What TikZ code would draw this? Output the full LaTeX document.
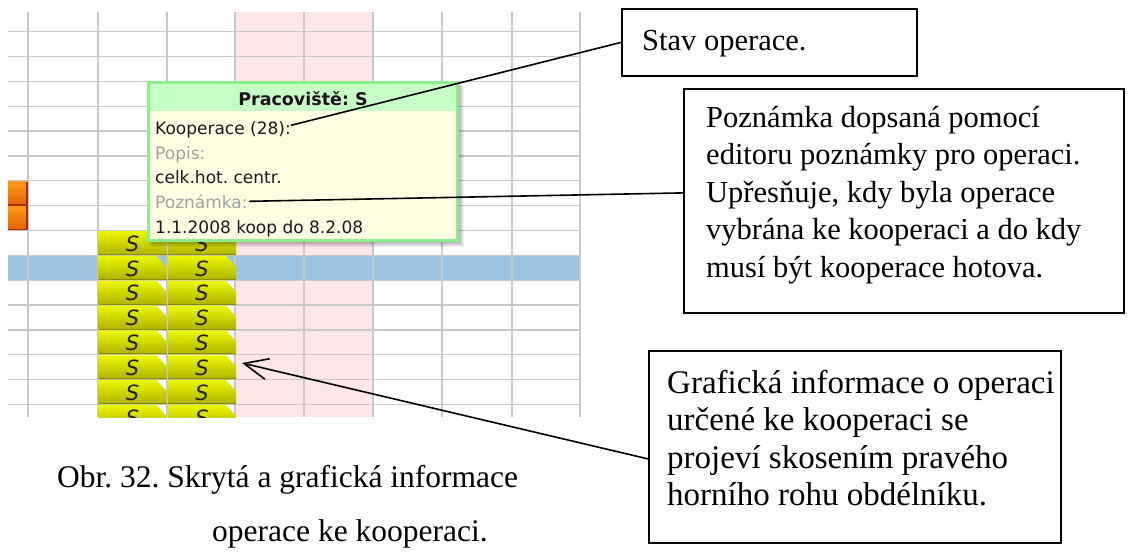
\documentclass[tikz,border=0pt]{standalone}
\usepackage{fontspec}
\setmainfont{Liberation Serif}
\newfontfamily\tipfont{DejaVu Sans}
\usetikzlibrary{arrows.meta,calc}
\frenchspacing

\definecolor{gridline}{HTML}{C8C8C8}
\definecolor{pinkcol}{HTML}{FDE6E6}
\definecolor{bluerow}{HTML}{9CC3E0}
\definecolor{tipborder}{HTML}{8CEF8C}
\definecolor{tiphead}{HTML}{C6FFC6}
\definecolor{tipbody}{HTML}{FFFFE1}
\definecolor{tipgrey}{HTML}{A0A0A0}
\definecolor{tipdark}{HTML}{1E141E}
\definecolor{yeltop}{HTML}{ECF800}
\definecolor{yelmid}{HTML}{D6E000}
\definecolor{yelbot}{HTML}{AEB200}
\definecolor{yelline}{HTML}{8A8C00}
\definecolor{blocktext}{HTML}{202000}
\definecolor{orangetop}{HTML}{FF9A1A}
\definecolor{orangebot}{HTML}{E46200}
\definecolor{orangeedge}{HTML}{A8280E}

% one operation block with the bevelled top right corner
\newcommand\opblock[3]{%
  \shade[top color=yeltop, middle color=yelmid, bottom color=yelbot]
    (#1,#2) -- ({#1+58},#2) -- ({#1+68},{#2+11}) -- ({#1+68},{#2+24}) -- (#1,{#2+24}) -- cycle;
  \draw[yelline, line width=1pt] (#1,{#2+23.5}) -- ({#1+68},{#2+23.5});
  \node[blocklabel] (#3) at ({#1+34},{#2+12.5}) {S};
}

\begin{document}
\begin{tikzpicture}[x=1pt, y=-1pt,
  gridl/.style={gridline, line width=1.3pt},
  blocklabel/.style={inner sep=0pt, text=blocktext, font=\tipfont\itshape\fontsize{21}{22}\selectfont},
  tiptext/.style={inner sep=0pt, anchor=base west, text=tipdark, font=\tipfont\fontsize{17}{20}\selectfont},
  tiplabel/.style={tiptext, text=tipgrey},
  callout/.style={draw, line width=1.8pt, fill=white, inner sep=0pt, anchor=north west},
  boxtext/.style={inner sep=0pt, anchor=base west, font=\fontsize{30.5}{37}\selectfont},
  bigtext/.style={boxtext, font=\fontsize{33}{37}\selectfont},
  captext/.style={boxtext, font=\fontsize{31.5}{37}\selectfont},
  conn/.style={line width=1.6pt, black}
]
\useasboundingbox (0,0) rectangle (1143,552);
\fill[white] (0,0) rectangle (1143,552);

% planning grid
\begin{scope}
  \clip (8,12) rectangle (581,417);
  \fill[pinkcol] (235,12) rectangle (373,417);
  \fill[bluerow] (8,255.3) rectangle (581,280.2);
  \foreach \r in {0,...,15}
    \draw[gridl] (8,{31.7+24.85*\r}) -- (581,{31.7+24.85*\r});
  \foreach \c in {28,98,167,235,304,373,442,512,580}
    \draw[gridl] (\c,12) -- (\c,417);
  % orange operations at the left edge
  \foreach \y in {181.5,206} {
    \shade[top color=orangetop, bottom color=orangebot] (0,\y) rectangle (27,{\y+23.5});
    \draw[orangeedge, line width=1.3pt] (27,\y) -- (27,{\y+23.5}) -- (0,{\y+23.5});
  }
  % cooperation operations
  \foreach \r in {0,...,7} {
    \pgfmathsetmacro\ytop{231+24.85*\r}
    \opblock{98.5}{\ytop}{sa\r}
    \opblock{168}{\ytop}{sb\r}
  }
\end{scope}

% tooltip with its shadow
\foreach \k in {1,...,5}
  \fill[black, opacity=0.06] ({147+\k},{81+\k}) rectangle ({459+\k},{242+\k});
\node[fill=tipbody, inner sep=0pt, minimum width=309pt, minimum height=158pt, anchor=north west] (tip) at (148.5,82.5) {};
\fill[tiphead] (150,84) rectangle (456,111);
\draw[tipborder, line width=3pt] (tip.north west) rectangle (tip.south east);
\node[inner sep=0pt, anchor=base, text=tipdark, font=\tipfont\bfseries\fontsize{17.5}{20}\selectfont] (head) at (303,105) {Pracoviště: S};
\node[tiptext] (koop) at (155,134) {Kooperace (28):};
\node[tiplabel] (popis) at (155,159) {Popis:};
\node[tiptext] (celk) at (155,183.5) {celk.hot. centr.};
\node[tiplabel] (pozn) at (155,208) {Poznámka:};
\node[tiptext] (datum) at (155,233) {1.1.2008 koop do 8.2.08};

% callout boxes
\node[callout, minimum width=295pt, minimum height=67pt] (b1) at (621,8) {};
\node[boxtext] (t1) at (642,50) {Stav operace.};

\node[callout, minimum width=440pt, minimum height=224pt] (b2) at (683,88) {};
\node[boxtext] (t2a) at (706,127) {Poznámka dopsaná pomocí};
\node[boxtext] (t2b) at (706,164.5) {editoru poznámky pro operaci.};
\node[boxtext] (t2c) at (706,202) {Upřesňuje, kdy byla operace};
\node[boxtext] (t2d) at (706,239.5) {vybrána ke kooperaci a do kdy};
\node[boxtext] (t2e) at (706,277) {musí být kooperace hotova.};

\node[callout, minimum width=412pt, minimum height=192pt] (b3) at (648,350) {};
\node[bigtext] (t3a) at (667,393) {Grafická informace o operaci};
\node[bigtext] (t3b) at (667,430.5) {určené ke kooperaci se};
\node[bigtext] (t3c) at (667,468) {projeví skosením pravého};
\node[bigtext] (t3d) at (667,505.5) {horního rohu obdélníku.};

% caption
\node[captext] (cap1) at (57,487) {Obr. 32. Skrytá a grafická informace};
\node[captext] (cap2) at (212,541) {operace ke kooperaci.};

% connectors
\coordinate (bevel) at (242,363);
\draw[conn] ([yshift=4pt]koop.east) -- (b1.west);
\draw[conn] ([xshift=1pt]pozn.east) -- ([yshift=8pt]b2.west);
\draw[conn, -{Straight Barb[length=24pt, width=21pt]}] ([yshift=-12pt]b3.west) -- (bevel);
\end{tikzpicture}
\end{document}
